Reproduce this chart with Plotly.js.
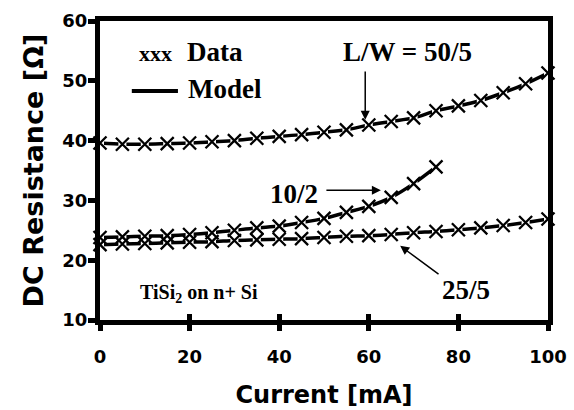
<!DOCTYPE html>
<html>
<head>
<meta charset="utf-8">
<script src="https://cdn.plot.ly/plotly-3.0.1.min.js"></script>
<style>html,body{margin:0;padding:0;background:#fff;}#chart{width:574px;height:410px;}</style>
</head>
<body>
<div id="chart"></div>
<script>
// Current [mA]
const current = [0,5,10,15,20,25,30,35,40,45,50,55,60,65,70,75,80,85,90,95,100];
const current10_2 = [0,5,10,15,20,25,30,35,40,45,50,55,60,65,70,75];
// DC Resistance [Ohm]
const r50_5 = [39.6,39.4,39.4,39.5,39.6,39.8,40.0,40.4,40.7,41.0,41.4,41.8,42.6,43.2,43.8,45.0,45.8,46.7,48.0,49.5,51.3];
const r10_2 = [23.8,23.9,24.0,24.1,24.3,24.6,25.0,25.4,25.7,26.3,27.0,28.0,29.0,30.5,32.8,35.6];
const r25_5 = [22.6,22.7,22.8,22.9,23.0,23.1,23.3,23.4,23.5,23.6,23.8,24.0,24.1,24.3,24.6,24.8,25.1,25.4,25.8,26.3,26.9];
const xTicks = [0,20,40,60,80,100];
const yTicks = [10,20,30,40,50,60];

const series = [[current, r50_5], [current10_2, r10_2], [current, r25_5]];
const traces = [];
series.forEach(([x, y]) => {
  traces.push({x, y, mode: 'lines', line: {color: '#000', width: 3.5, shape: 'spline', smoothing: 0.8},
    hoverinfo: 'skip', showlegend: false, cliponaxis: false});
});
series.forEach(([x, y]) => {
  traces.push({x, y, mode: 'markers', marker: {symbol: 'square', size: 8, color: '#fff', line: {width: 0}},
    hoverinfo: 'skip', showlegend: false, cliponaxis: false});
});
series.forEach(([x, y]) => {
  traces.push({x, y, mode: 'markers', marker: {symbol: 'x-thin-open', size: 13, color: '#000', line: {width: 2.3, color: '#000'}},
    showlegend: false, cliponaxis: false});
});
// overlay axis only used to draw the inner half of the x ticks
traces.push({x: [], y: [], xaxis: 'x2', yaxis: 'y', mode: 'markers', showlegend: false, hoverinfo: 'skip'});

const serif = {family: 'Liberation Serif, Times New Roman, serif', color: '#000'};
const sans = {family: 'DejaVu Sans, Arial, sans-serif', color: '#000', weight: 'bold'};
const b = s => '<b>' + s + '</b>';

const layout = {
  width: 574, height: 410,
  margin: {l: 100, r: 26, t: 21, b: 90},
  paper_bgcolor: '#fff', plot_bgcolor: '#fff',
  showlegend: false,
  xaxis: {
    range: [0, 100], tickvals: xTicks, ticktext: xTicks.map(String),
    showgrid: false, zeroline: false,
    showline: true, linecolor: '#000', linewidth: 5, mirror: true,
    ticks: 'outside', ticklen: 6, tickwidth: 5, tickcolor: '#000',
    ticklabelstandoff: 10,
    tickfont: Object.assign({size: 18}, sans),
    title: {text: 'Current [mA]', font: Object.assign({size: 24}, sans), standoff: 22}
  },
  xaxis2: {
    range: [0, 100], overlaying: 'x', side: 'bottom', tickvals: xTicks,
    showgrid: false, zeroline: false, showline: false, showticklabels: false,
    ticks: 'inside', ticklen: 6, tickwidth: 5, tickcolor: '#000'
  },
  yaxis: {
    range: [10, 60], tickvals: yTicks, ticktext: yTicks.map(String),
    showgrid: false, zeroline: false,
    showline: true, linecolor: '#000', linewidth: 5, mirror: true,
    ticks: 'outside', ticklen: 7, tickwidth: 5, tickcolor: '#000',
    ticklabelstandoff: -3,
    tickfont: Object.assign({size: 18}, sans),
    title: {text: 'DC Resistance [Ω]', font: Object.assign({size: 27}, sans), standoff: 12}
  },
  shapes: [
    {type: 'line', xref: 'x', yref: 'y', x0: 7.1, x1: 17.4, y0: 48.3, y1: 48.3, line: {color: '#000', width: 4}}
  ],
  annotations: [
    {x: 12.3, y: 54.6, xref: 'x', yref: 'y', text: b('xxx'), showarrow: false, font: Object.assign({size: 22}, serif)},
    {x: 18.9, y: 54.9, xref: 'x', yref: 'y', text: b('Data'), xanchor: 'left', showarrow: false, font: Object.assign({size: 27}, serif)},
    {x: 19.3, y: 48.6, xref: 'x', yref: 'y', text: b('Model'), xanchor: 'left', showarrow: false, font: Object.assign({size: 27}, serif)},
    {x: 68.7, y: 54.8, xref: 'x', yref: 'y', text: b('L/W = 50/5'), showarrow: false, font: Object.assign({size: 27}, serif)},
    {x: 59.2, y: 43.5, xref: 'x', yref: 'y', axref: 'x', ayref: 'y', ax: 59.2, ay: 51.8, text: '',
      showarrow: true, arrowhead: 2, arrowsize: 1.2, arrowwidth: 1.5, arrowcolor: '#000'},
    {x: 43.4, y: 31.0, xref: 'x', yref: 'y', text: b('10/2'), showarrow: false, font: Object.assign({size: 27}, serif)},
    {x: 62.7, y: 31.7, xref: 'x', yref: 'y', axref: 'x', ayref: 'y', ax: 50.2, ay: 31.7, text: '',
      showarrow: true, arrowhead: 2, arrowsize: 1.2, arrowwidth: 1.5, arrowcolor: '#000'},
    {x: 81.8, y: 15.0, xref: 'x', yref: 'y', text: b('25/5'), showarrow: false, font: Object.assign({size: 27}, serif)},
    {x: 67.0, y: 22.4, xref: 'x', yref: 'y', axref: 'x', ayref: 'y', ax: 75.9, ay: 17.5, text: '',
      showarrow: true, arrowhead: 2, arrowsize: 1.2, arrowwidth: 1.5, arrowcolor: '#000'},
    {x: 22.1, y: 14.5, xref: 'x', yref: 'y', text: b('TiSi<sub>2</sub> on n+ Si'), showarrow: false, font: Object.assign({size: 20}, serif)}
  ]
};

Plotly.newPlot('chart', traces, layout, {staticPlot: true, displayModeBar: false});
</script>
</body>
</html>
